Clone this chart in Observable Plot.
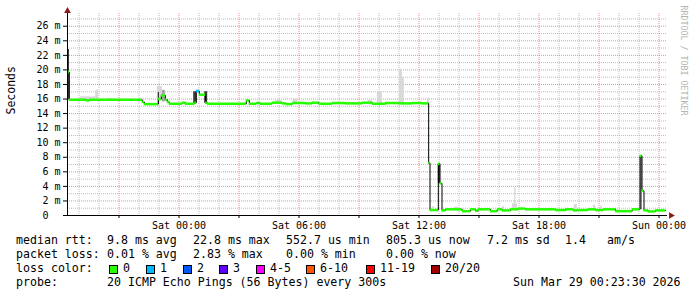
<!DOCTYPE html>
<html><head><meta charset="utf-8">
<script src="https://cdn.jsdelivr.net/npm/d3@7"></script>
<script src="https://cdn.jsdelivr.net/npm/@observablehq/plot@0.6"></script>
<style>
html,body{margin:0;padding:0;background:#fff;}
#wrap{position:relative;width:697px;height:297px;overflow:hidden;background:#fff;font-family:"DejaVu Sans Mono",monospace;color:#000;}
#wrap svg{position:absolute;left:0;top:0;}
.lg{position:absolute;font-size:11.6px;line-height:11.6px;white-space:pre;color:#000;}
.bx{position:absolute;width:9px;height:9px;box-sizing:border-box;border:1px solid #000;}
</style></head><body><div id="wrap"></div>
<script>
// ---------- data ----------
const medianTime = ["Fri 18:26","Fri 18:31","Fri 19:22","Fri 19:31","Fri 22:10","Fri 22:16","Fri 22:58","Fri 23:07","Fri 23:19","Fri 23:25","Fri 23:31","Sat 00:10","Sat 00:19","Sat 00:47","Sat 00:52","Sat 01:01","Sat 01:20","Sat 01:25","Sat 03:22","Sat 03:31","Sat 03:52","Sat 04:04","Sat 04:40","Sat 05:10","Sat 05:22","Sat 05:40","Sat 06:20","Sat 06:40","Sat 07:00","Sat 07:40","Sat 08:20","Sat 09:10","Sat 09:40","Sat 10:20","Sat 11:00","Sat 11:40","Sat 12:10","Sat 12:29","Sat 12:33","Sat 12:58","Sat 13:03","Sat 13:09","Sat 13:20","Sat 14:10","Sat 14:35","Sat 14:50","Sat 14:58","Sat 15:35","Sat 15:55","Sat 16:10","Sat 16:35","Sat 16:58","Sat 17:20","Sat 18:50","Sat 19:20","Sat 19:43","Sat 19:55","Sat 20:28","Sat 20:50","Sat 21:13","Sat 21:50","Sat 22:40","Sat 23:03","Sat 23:09","Sat 23:15","Sat 23:28","Sat 23:50","Sun 00:20"];
const medianMs = [19.7,15.9,15.8,15.9,15.6,15.3,16.0,16.5,15.9,15.6,15.35,15.5,15.35,15.5,17.1,16.6,15.5,15.35,15.8,15.35,15.45,15.35,15.5,15.4,15.3,15.45,15.4,15.5,15.35,15.45,15.4,15.5,15.35,15.45,15.4,15.45,15.4,7.2,0.75,7.1,4.4,0.7,0.85,0.6,0.85,0.65,0.85,0.6,0.85,0.7,0.85,0.95,0.85,0.75,0.85,0.7,0.75,0.85,0.75,0.85,0.6,0.85,8.2,3.4,0.7,0.56,0.7,0.7];
const lossEventTime = ["Sat 00:52"];
const lossEventLevel = [1];

const smokeStart = ["Fri 18:26","Fri 19:05","Fri 19:50","Fri 20:25","Fri 22:55","Fri 22:58","Fri 23:10","Sat 00:44","Sat 01:17","Sat 04:50","Sat 05:43","Sat 09:28","Sat 09:55","Sat 11:01","Sat 11:10","Sat 12:25","Sat 12:58","Sat 12:41","Sat 13:47","Sat 16:10","Sat 16:40","Sat 16:47","Sat 19:46","Sat 20:43","Sat 21:04","Sat 23:06"];
const smokeEnd = ["Fri 18:31","Fri 19:50","Fri 19:59","Fri 20:37","Fri 23:10","Fri 23:01","Fri 23:19","Sat 00:53","Sat 01:26","Sat 05:09","Sat 05:56","Sat 09:40","Sat 10:10","Sat 11:10","Sat 11:16","Sat 12:31","Sat 13:04","Sat 12:47","Sat 13:59","Sat 16:17","Sat 16:56","Sat 16:51","Sat 19:55","Sat 20:50","Sat 21:10","Sat 23:09"];
const smokeLow = [15.9,15.9,15.9,15.9,16.0,15.3,15.6,15.3,15.4,15.4,15.4,15.4,15.4,15.4,15.4,15.4,4.4,0.7,0.7,0.7,0.8,0.8,0.7,0.7,0.7,0.8];
const smokeHigh = [22.8,16.3,17.2,16.1,17.7,16.9,17.2,17.0,17.0,15.8,16.0,15.8,17.0,20.1,19.0,16.1,7.1,1.2,1.15,1.2,1.6,3.8,1.5,1.4,1.3,8.2];
const smokeDensity = [1,0.05,0.05,0.05,0.05,0.95,0.3,0.8,0.8,0.05,0.05,0.05,0.05,0.05,0.05,0.05,0.9,0.05,0.05,0.05,0.05,0.05,0.05,0.05,0.05,0.95];

const yTicks = [0,2,4,6,8,10,12,14,16,18,20,22,24,26];
const xTickLabels = ["Sat 00:00","Sat 06:00","Sat 12:00","Sat 18:00","Sun 00:00"];

const rttLabel = "median rtt:";
const rttStats = ["9.8 ms avg","22.8 ms max","552.7 us min","805.3 us now","7.2 ms sd","1.4","am/s"];
const lossLabel = "packet loss:";
const lossStats = ["0.01 % avg","2.83 % max","0.00 % min","0.00 % now"];
const colorLabel = "loss color:";
const lossLabels = ["0","1","2","3","4-5","6-10","11-19","20/20"];
const lossColors = ["#26ff00","#00b8ff","#0059ff","#5e00ff","#ff00ff","#ff5500","#ff0000","#a10000"];
const probeLabel = "probe:";
const probeText = "20 ICMP Echo Pings (56 Bytes) every 300s";
const stampText = "Sun Mar 29 00:23:30 2026";
const yTitle = "Seconds";
const watermark = "RRDTOOL / TOBI OETIKER";

// ---------- helpers ----------
const DAY = {Fri: 27, Sat: 28, Sun: 29};
function parseT(s) {
  const [d, hm] = s.split(" ");
  const [h, m] = hm.split(":").map(Number);
  return new Date(Date.UTC(2026, 2, DAY[d], h, m));
}
const lossMap = new Map(lossEventTime.map((t, i) => [t, lossEventLevel[i]]));
const points = medianTime.map((s, i) => ({t: parseT(s), v: medianMs[i], loss: lossMap.get(s) || 0}));
const segs = points.slice(0, -1).map((p, i) => ({t0: p.t, t1: points[i + 1].t, v: p.v, loss: p.loss}));
const smoke = smokeStart.map((s, i) => ({t0: parseT(s), t1: parseT(smokeEnd[i]), lo: smokeLow[i], hi: smokeHigh[i], density: smokeDensity[i]}));
const gray = d3.interpolateRgb("#e2e2e2", "#111111");

const xStart = new Date(Date.UTC(2026, 2, 27, 18, 25, 30));
const xEnd = new Date(Date.UTC(2026, 2, 29, 0, 25, 30));
const hours = d3.utcHour.range(xStart, xEnd);
const minorX = hours.filter(d => d.getUTCHours() % 3 !== 0);
const majorX = hours.filter(d => d.getUTCHours() % 3 === 0);
const minorY = d3.range(1, 28, 2);
const majorY = yTicks.filter(d => d > 0);
const xTickDates = xTickLabels.map(parseT);
const xLabelMap = new Map(xTickDates.map((d, i) => [+d, xTickLabels[i]]));

const chart = Plot.plot({
  width: 697, height: 232,
  marginLeft: 67, marginRight: 30, marginTop: 13, marginBottom: 17,
  x: {type: "utc", domain: [xStart, xEnd]},
  y: {domain: [0, 27.75]},
  color: {type: "identity"},
  style: {fontFamily: "DejaVu Sans Mono, monospace", fontSize: "10px", background: "#fff", color: "#000", overflow: "visible"},
  marks: [
    Plot.ruleY(minorY, {stroke: "#bdbdbd", strokeDasharray: "1,1"}),
    Plot.ruleX(minorX, {stroke: "#bdbdbd", strokeDasharray: "1,1"}),
    Plot.ruleY(majorY, {stroke: "#ee8f8f", strokeDasharray: "1,1"}),
    Plot.ruleX(majorX, {stroke: "#ee8f8f", strokeDasharray: "1,1"}),
    Plot.rect(smoke, {x1: "t0", x2: "t1", y1: "lo", y2: "hi", fill: d => gray(d.density)}),
    Plot.line(points, {x: "t", y: "v", curve: "step-after", stroke: "#000", strokeWidth: 1}),
    Plot.ruleY(segs, {x1: "t0", x2: "t1", y: "v", stroke: d => lossColors[d.loss], strokeWidth: 2.5}),
    Plot.ruleX([xStart], {stroke: "#000"}),
    Plot.ruleY([0], {stroke: "#000", insetLeft: -4}),
    Plot.axisY(yTicks, {tickFormat: d => d === 0 ? "0\u00a0\u00a0" : `${d} m`, tickSize: 4, tickPadding: 3, label: null, fontSize: 10}),
    Plot.axisX(majorX, {tickFormat: () => "", tickSize: 3, label: null}),
    Plot.axisX(xTickDates, {tickFormat: d => xLabelMap.get(+d), tickSize: 0, tickPadding: 6, label: null, fontSize: 10}),
    Plot.dot([0], {frameAnchor: "top-left", symbol: "triangle", r: 2.5, fill: "#8b1a1a", stroke: "none", dy: -2.5}),
    Plot.dot([0], {frameAnchor: "bottom-right", symbol: "triangle", r: 2.5, fill: "#8b1a1a", stroke: "none", rotate: 90, dx: 3.5}),
    Plot.text([yTitle], {text: d => d, frameAnchor: "left", rotate: -90, dx: -56, fontSize: 11.5, fill: "#000"}),
    Plot.text([watermark], {text: d => d, frameAnchor: "top-right", rotate: 90, textAnchor: "start", dx: 19.5, dy: -8, fontSize: 8.3, fill: "#b4b4b4"})
  ]
});

const wrap = document.getElementById("wrap");
wrap.appendChild(chart);

// ---------- legend below the chart ----------
const rowBase = [245, 259, 273, 287];
const labelX = 16;
const statX = [107, 193, 286, 386, 487, 565, 607];
const boxTextX = [123, 160, 197, 233, 270, 320, 380, 445];
const stampX = 513;
function addText(str, x, baseline) {
  const s = document.createElement("div");
  s.className = "lg";
  s.textContent = str;
  s.style.left = x + "px";
  s.style.top = (baseline - 9.8) + "px";
  wrap.appendChild(s);
}
addText(rttLabel, labelX, rowBase[0]);
rttStats.forEach((t, i) => addText(t, statX[i], rowBase[0]));
addText(lossLabel, labelX, rowBase[1]);
lossStats.forEach((t, i) => addText(t, statX[i], rowBase[1]));
addText(colorLabel, labelX, rowBase[2]);
lossLabels.forEach((t, i) => {
  const b = document.createElement("div");
  b.className = "bx";
  b.style.left = (boxTextX[i] - 14.5) + "px";
  b.style.top = (rowBase[2] - 8) + "px";
  b.style.background = lossColors[i];
  wrap.appendChild(b);
  addText(t, boxTextX[i], rowBase[2]);
});
addText(probeLabel, labelX, rowBase[3]);
addText(probeText, statX[0], rowBase[3]);
addText(stampText, stampX, rowBase[3]);
</script></body></html>
